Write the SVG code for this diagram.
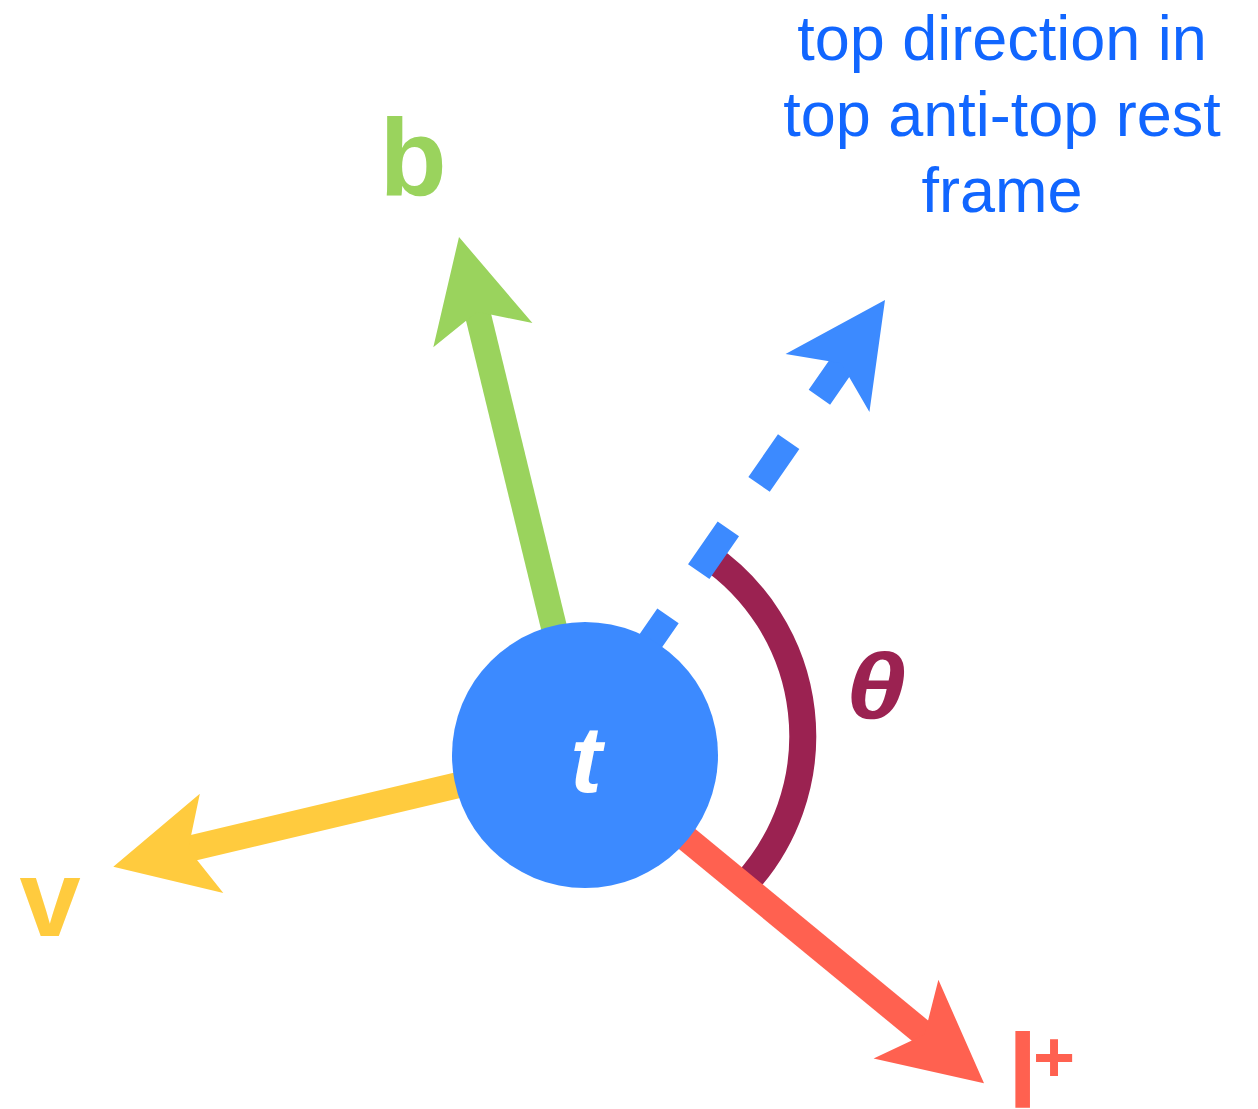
<svg xmlns="http://www.w3.org/2000/svg" xmlns:xlink="http://www.w3.org/1999/xlink" width="1258" height="1109" viewBox="0 0 1258 1109">
  <style>
    .shaft { stroke-width: 26; stroke-linecap: butt; fill: none; }
    .lbl { font-family: "Liberation Sans", Arial, sans-serif; font-weight: bold; text-anchor: middle; }
    .cap { font-family: "Liberation Sans", Arial, sans-serif; font-size: 63px; fill: #1166FF; text-anchor: middle; }
  </style>
  <defs>
    <path id="head" d="M0,0 L-101,-51 L-77,0 L-101,51 Z"/>
  </defs>
  <rect width="1258" height="1109" fill="#ffffff"/>

  <g id="connectors">
    <g id="angle-arc">
      <path d="M706.3,554.7 A218.7,218.7 0 0 1 744,885.2" fill="none" stroke="#9B2251" stroke-width="27"/>
    </g>
    <g id="arrow-b">
      <line class="shaft" x1="585" y1="755" x2="473.2" y2="295.3" stroke="#9AD35D"/>
      <use xlink:href="#head" href="#head" fill="#9AD35D" transform="translate(459,237) rotate(-103.67)"/>
    </g>
    <g id="arrow-v">
      <line class="shaft" x1="585" y1="755" x2="171.7" y2="852.9" stroke="#FFCB3E"/>
      <use xlink:href="#head" href="#head" fill="#FFCB3E" transform="translate(113.3,866.7) rotate(166.68)"/>
    </g>
    <g id="arrow-top-direction">
      <line class="shaft" x1="638.4" y1="658.7" x2="846" y2="358.8" stroke="#3C8AFF" stroke-dasharray="52 54"/>
      <use xlink:href="#head" href="#head" fill="#3C8AFF" transform="translate(885,300) rotate(-55.3)"/>
    </g>
    <g id="arrow-l">
      <line class="shaft" x1="585" y1="755" x2="937.7" y2="1045.2" stroke="#FF6150"/>
      <use xlink:href="#head" href="#head" fill="#FF6150" transform="translate(984,1083.3) rotate(39.44)"/>
    </g>
  </g>

  <g id="node-t">
    <circle cx="585" cy="755" r="133" fill="#3C8AFF"/>
    <text class="lbl" x="586" y="792" font-size="95" font-style="italic" fill="#ffffff">t</text>
  </g>

  <g id="label-b">
    <text class="lbl" x="413" y="195" font-size="110" fill="#9AD35D">b</text>
  </g>
  <g id="label-v">
    <text class="lbl" x="50" y="936" font-size="110" fill="#FFCB3E">v</text>
  </g>
  <g id="label-l">
    <text x="1008" y="1108" font-family="&quot;Liberation Sans&quot;, Arial, sans-serif" font-weight="bold" font-size="106" fill="#FF6150">l</text>
    <text x="1033" y="1082" font-family="&quot;Liberation Sans&quot;, Arial, sans-serif" font-weight="bold" font-size="72" fill="#FF6150">+</text>
  </g>
  <g id="label-theta">
    <text class="lbl" transform="translate(876,718) scale(1.18,1)" x="0" y="0" font-size="92" font-style="italic" fill="#9B2251">θ</text>
  </g>
  <g id="label-top-direction">
    <text class="cap" x="1002" y="60">top direction in</text>
    <text class="cap" x="1002" y="136">top anti-top rest</text>
    <text class="cap" x="1002" y="212">frame</text>
  </g>
</svg>
